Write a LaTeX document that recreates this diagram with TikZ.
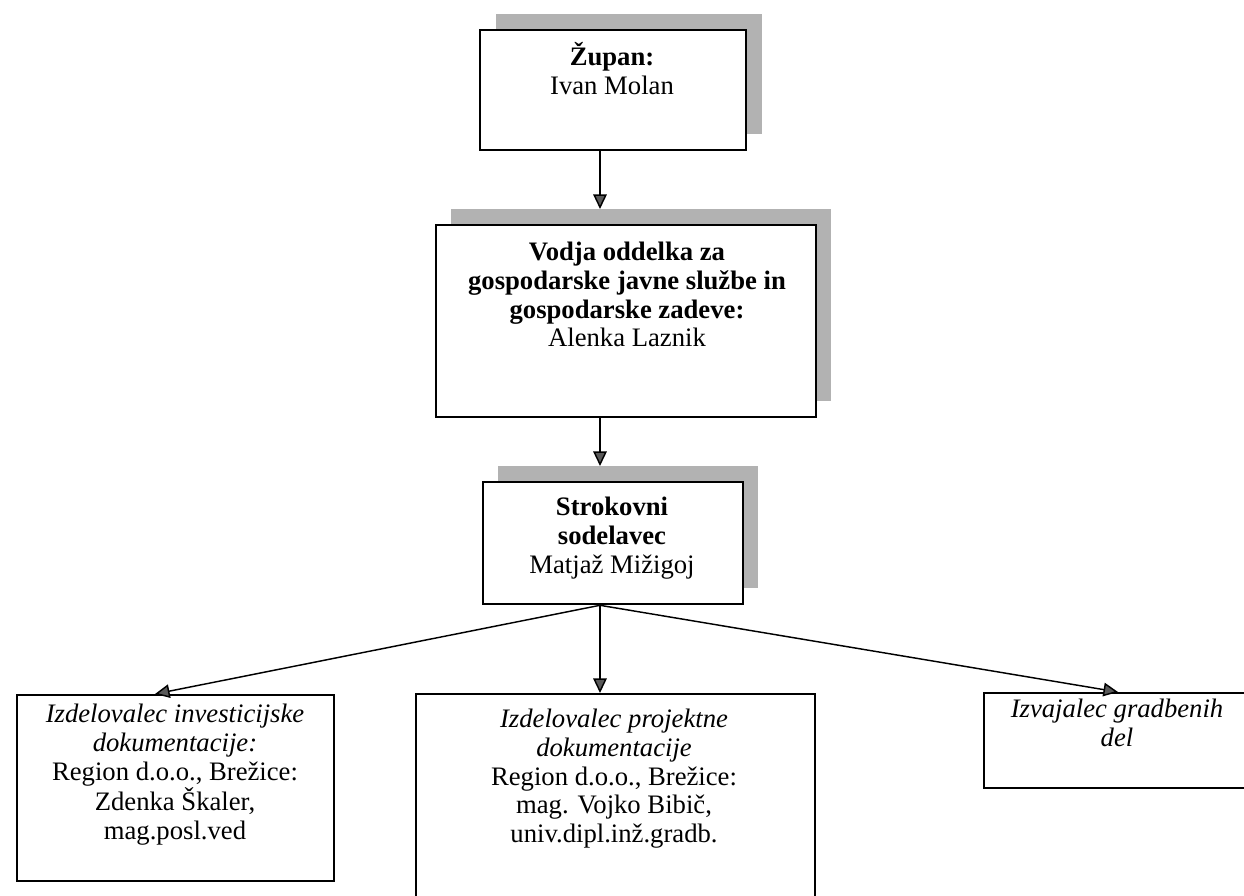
\documentclass[tikz,border=0pt]{standalone}
\usepackage{fontspec}
\setmainfont{Liberation Serif}
\usetikzlibrary{arrows.meta,calc}
\begin{document}
\begin{tikzpicture}[x=0.48pt,y=-0.48pt,
  shadowbox/.style={fill=black!30, draw=none, inner sep=0pt, anchor=north west},
  box/.style={draw=black, line width=1.1pt, fill=white, inner sep=0pt, anchor=north west},
  txt/.style={align=center, inner sep=0pt, anchor=north, font=\fontsize{12.8}{13.7}\selectfont},
  arr/.style={line width=0.7pt, -{Triangle[width=6.5pt,length=7pt,fill=black!65]}}]
\clip (0,0) rectangle (1244,895);
\fill[white] (0,0) rectangle (1244,895);
% shadows
\node[shadowbox, minimum width=266*0.48pt, minimum height=120*0.48pt] (s1) at (496,14) {};
\node[shadowbox, minimum width=380*0.48pt, minimum height=192*0.48pt] (s2) at (451,209) {};
\node[shadowbox, minimum width=260*0.48pt, minimum height=122*0.48pt] (s3) at (498,466) {};
% boxes
\node[box, minimum width=266*0.48pt, minimum height=120*0.48pt] (b1) at (479,29) {};
\node[box, minimum width=380*0.48pt, minimum height=192*0.48pt] (b2) at (435,224) {};
\node[box, minimum width=260*0.48pt, minimum height=122*0.48pt] (b3) at (482,481) {};
\node[box, minimum width=317*0.48pt, minimum height=186*0.48pt] (b4) at (16,694) {};
\node[box, minimum width=399*0.48pt, minimum height=212*0.48pt] (b5) at (415,693) {};
\node[box, minimum width=272*0.48pt, minimum height=95*0.48pt] (b6) at (983,692) {};
% texts
\node[txt] (t1) at (612,42) {\textbf{Župan:}\\Ivan Molan};
\node[txt] (t2) at (627,242) {\textbf{Vodja oddelka za}\\\textbf{gospodarske javne službe in}\\\textbf{gospodarske zadeve:}\\Alenka Laznik};
\node[txt] (t3) at (612,497) {\textbf{Strokovni}\\\textbf{sodelavec}\\Matjaž Mižigoj};
\node[txt] (t4) at (175,704) {\textit{Izdelovalec investicijske}\\\textit{dokumentacije:}\\Region d.o.o., Brežice:\\Zdenka Škaler,\\mag.posl.ved};
\node[txt] (t5) at (614,709) {\textit{Izdelovalec projektne}\\\textit{dokumentacije}\\Region d.o.o., Brežice:\\mag. Vojko Bibič,\\univ.dipl.inž.gradb.};
\node[txt] (t6) at (1117,699) {\textit{Izvajalec gradbenih}\\\textit{del}};
% connectors
\coordinate (ax) at (600,0);
\coordinate (xl) at (155,0);
\coordinate (xr) at (1118,0);
\coordinate (apex) at (b3.south -| ax);
\draw[arr] (b1.south -| ax) -- (s2.north -| ax);
\draw[arr] (b2.south -| ax) -- (s3.north -| ax);
\draw[arr] (apex) -- (b4.north -| xl);
\draw[arr] (apex) -- (b5.north -| ax);
\draw[arr] (apex) -- (b6.north -| xr);
\end{tikzpicture}
\end{document}
